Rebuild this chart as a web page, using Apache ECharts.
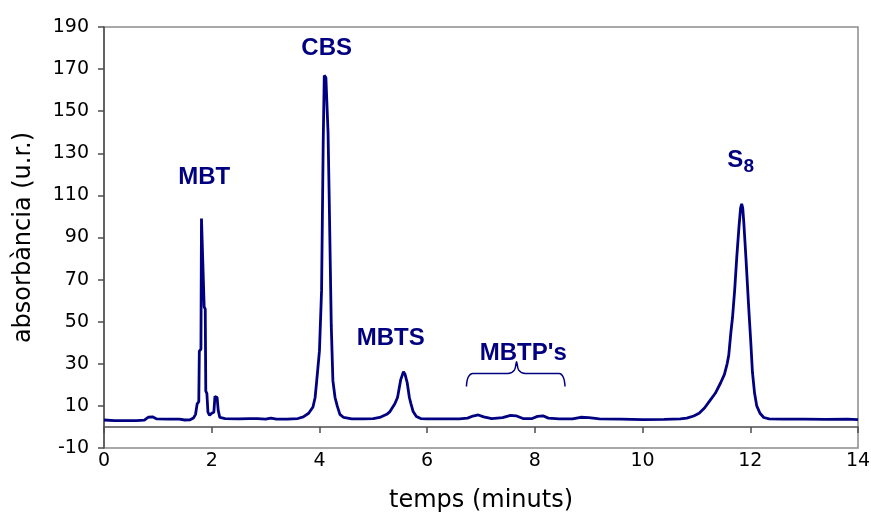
<!DOCTYPE html>
<html>
<head>
<meta charset="utf-8">
<script src="https://cdn.jsdelivr.net/npm/echarts@6/dist/echarts.min.js"></script>
<style>
  html, body { margin: 0; padding: 0; background: #fff; }
  #main { width: 871px; height: 516px; }
</style>
</head>
<body>
<div id="main"></div>
<script>
// chromatogram, values
var temps = [0.00, 0.20, 0.40, 0.60, 0.75, 0.82, 0.90, 0.98, 1.20, 1.40, 1.50, 1.60, 1.66, 1.70, 1.73, 1.76, 1.77, 1.80, 1.81, 1.84,
  1.86, 1.88, 1.89, 1.91, 1.93, 1.96, 2.00, 2.04, 2.06, 2.10, 2.12, 2.15, 2.25, 2.50, 2.70, 2.85, 3.00, 3.10, 3.20, 3.40,
  3.60, 3.70, 3.80, 3.88, 3.92, 3.95, 4.00, 4.04, 4.07, 4.09, 4.12, 4.16, 4.18, 4.22, 4.25, 4.29, 4.33, 4.38, 4.45, 4.60,
  4.80, 5.00, 5.12, 5.25, 5.31, 5.40, 5.45, 5.51, 5.56, 5.59, 5.63, 5.67, 5.70, 5.74, 5.80, 5.88, 6.00, 6.30, 6.60, 6.75,
  6.85, 6.95, 7.05, 7.20, 7.40, 7.55, 7.65, 7.78, 7.95, 8.05, 8.15, 8.25, 8.45, 8.70, 8.85, 9.00, 9.20, 9.60, 10.00, 10.40,
  10.70, 10.82, 10.95, 11.05, 11.15, 11.25, 11.35, 11.45, 11.52, 11.57, 11.60, 11.64, 11.67, 11.71, 11.75, 11.79, 11.82, 11.84, 11.86, 11.88,
  11.92, 11.97, 12.01, 12.04, 12.08, 12.12, 12.18, 12.25, 12.35, 12.60, 13.00, 13.40, 13.80, 14.00];
var absorbancia = [3.3, 3.0, 3.0, 3.0, 3.2, 4.6, 4.8, 3.8, 3.7, 3.7, 3.3, 3.4, 4.2, 6, 11, 12, 36, 37, 99, 99.5,
  57, 56, 17, 16, 7, 5.5, 6.5, 7, 14.5, 14, 8, 4.5, 4.0, 3.8, 4.0, 4.0, 3.7, 4.2, 3.7, 3.7,
  4.0, 4.8, 6.5, 9.5, 14, 22, 36, 65, 135, 167, 166, 140, 111, 48, 22, 14, 10, 6, 4.5, 3.8,
  3.8, 4.0, 4.5, 6, 7.3, 11, 14, 22.5, 26.2, 25, 21, 14, 11, 7.3, 5, 4.0, 3.8, 3.8, 3.8, 4.2,
  5.2, 5.7, 4.8, 4.0, 4.4, 5.5, 5.3, 4.0, 4.0, 5.0, 5.3, 4.2, 3.8, 3.8, 4.6, 4.4, 3.8, 3.7, 3.5, 3.6,
  3.8, 4.2, 5.2, 6.5, 9, 12.5, 16, 21, 25, 30, 34, 45, 52, 65, 81, 95, 104, 106, 104, 97,
  80, 57, 40, 26, 16, 10, 6.5, 4.5, 3.8, 3.7, 3.7, 3.6, 3.7, 3.5];

// peak names
var pics = ['MBT', 'CBS', 'MBTS', "MBTP's", 'S'];
var picsX = [1.86, 4.135, 5.325, 7.785, 11.72];
var picsY = [118.8, 179.8, 42.2, 35.1, 126.7];

// the brace over the MBTP's
var clauX = [6.73, 6.76, 6.85, 7.50, 7.62, 7.66, 7.70, 7.82, 8.45, 8.53, 8.56];
var clauY = [19.2, 23.5, 25.4, 25.4, 27.0, 31.0, 27.0, 25.4, 25.4, 23.5, 19.2];

var blau = '#000080';

var serie = temps.map(function (t, i) { return [t, absorbancia[i]]; });
var clau = clauX.map(function (x, i) { return [x, clauY[i]]; });
var etiquetes = pics.map(function (p, i) { return { value: [picsX[i], picsY[i]], name: p }; });
// subscript of S8
etiquetes.push({ value: [11.97, 123.8], name: '8', label: { fontSize: 19 } });

var chart = echarts.init(document.getElementById('main'), null, { renderer: 'canvas' });
chart.setOption({
  animation: false,
  backgroundColor: '#fff',
  grid: {
    left: 104, top: 27, right: 13, bottom: 68,
    outerBoundsMode: 'none', containLabel: false,
    show: true, borderColor: '#8c8c8c', borderWidth: 1.5
  },
  xAxis: {
    type: 'value', min: 0, max: 14, interval: 2,
    axisLine: { onZero: true, lineStyle: { color: '#4d4d4d', width: 1.5 } },
    axisTick: { show: true, inside: false, length: 6, lineStyle: { color: '#4d4d4d', width: 1.5 } },
    axisLabel: { margin: 4, fontSize: 19, color: '#000', fontFamily: 'DejaVu Sans' },
    splitLine: { show: false },
    name: 'temps (minuts)', nameLocation: 'middle', nameGap: 41,
    nameTextStyle: { fontSize: 24, color: '#000', fontFamily: 'DejaVu Sans' }
  },
  yAxis: {
    type: 'value', min: -10, max: 190, interval: 20,
    axisLine: { show: true, onZero: false, lineStyle: { color: '#4d4d4d', width: 1.5 } },
    axisTick: { show: true, inside: false, length: 6, lineStyle: { color: '#4d4d4d', width: 1.5 } },
    axisLabel: { margin: 15, fontSize: 19, color: '#000', fontFamily: 'DejaVu Sans' },
    splitLine: { show: false },
    name: 'absorbància (u.r.)', nameLocation: 'middle', nameRotate: 90, nameGap: 68,
    nameTextStyle: { fontSize: 24, color: '#000', fontFamily: 'DejaVu Sans' }
  },
  series: [
    {
      type: 'line', data: serie, showSymbol: false, symbol: 'none',
      lineStyle: { color: blau, width: 2.8 }, z: 3
    },
    {
      type: 'line', data: clau, showSymbol: false, symbol: 'none', smooth: 0.35,
      lineStyle: { color: blau, width: 1.5 }
    },
    {
      type: 'scatter', data: etiquetes, symbolSize: 0,
      itemStyle: { opacity: 1, color: blau },
      label: {
        show: true, position: 'inside', formatter: '{b}', opacity: 1,
        color: blau, fontSize: 24, fontWeight: 'bold', fontFamily: 'Liberation Sans'
      }
    }
  ]
});
</script>
</body>
</html>
